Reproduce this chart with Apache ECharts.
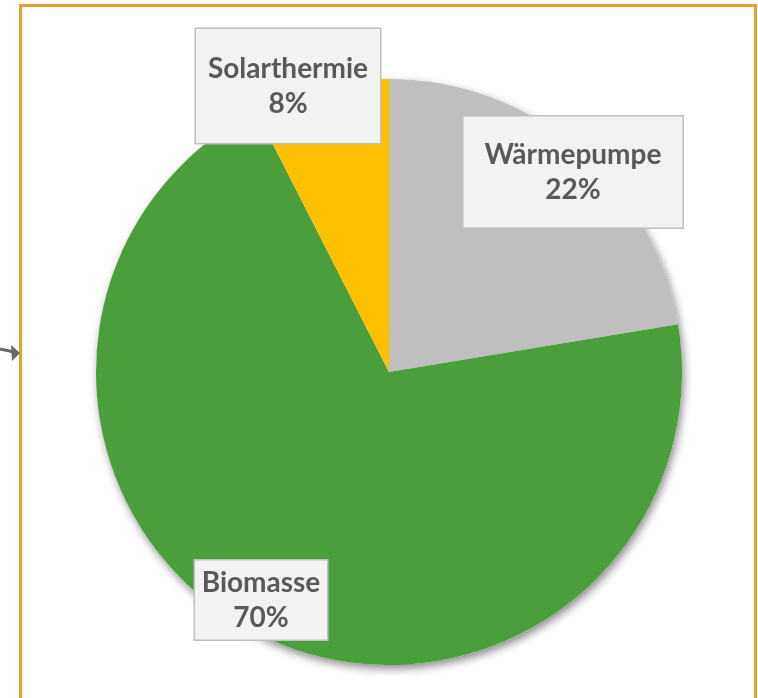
<!DOCTYPE html>
<html>
<head>
<meta charset="utf-8">
<script src="https://cdn.jsdelivr.net/npm/echarts@6/dist/echarts.min.js"></script>
<style>
    html, body { margin: 0; padding: 0; background: #fff; }
    #chart { width: 758px; height: 698px; }
</style>
</head>
<body>
<div id="chart"></div>
<script>
const categories = ["Wärmepumpe", "Biomasse", "Solarthermie"];
const shares = [22.4, 70.1, 7.5];
const sliceColors = ["#bfbfbf", "#4a9e3c", "#ffc000"];

// label box placement (center x, center y, box width, box height)
const labelBoxes = [
    { x: 573, y: 172, w: 221, h: 113 },
    { x: 261, y: 600, w: 134, h: 81 },
    { x: 288, y: 86, w: 186, h: 116 },
];

const chart = echarts.init(document.getElementById("chart"), null, { renderer: "canvas" });

const LINE_H = 35;

const data = categories.map((name, i) => {
    const box = labelBoxes[i];
    return {
        name: name,
        value: shares[i],
        itemStyle: { color: sliceColors[i] },
        label: {
            width: box.w - 2,
            padding: [(box.h - 2 - 2 * LINE_H) / 2, 0],
        },
    };
});

const options = {
    backgroundColor: "#fff",
    animation: false,
    graphic: [
        {
            type: "rect",
            shape: { x: 20.5, y: 5.5, width: 735, height: 720 },
            style: { fill: null, stroke: "#e99b2c", lineWidth: 3 },
            z: 0,
        },
        {
            type: "line",
            shape: { x1: 0, y1: 349, x2: 14, y2: 352 },
            style: { stroke: "#666", lineWidth: 3 },
        },
        {
            type: "polygon",
            shape: { points: [[20, 353], [11, 345], [12, 361]] },
            style: { fill: "#666" },
        },
    ],
    series: [
        {
            // soft drop shadow behind the pie
            type: "pie",
            silent: true,
            center: [389, 372],
            radius: 293,
            label: { show: false },
            labelLine: { show: false },
            itemStyle: {
                color: "#fff",
                shadowBlur: 8,
                shadowOffsetX: 2,
                shadowOffsetY: 4,
                shadowColor: "rgba(0,0,0,0.45)",
            },
            data: [{ value: 1 }],
            z: 1,
        },
        {
            type: "pie",
            center: [389, 372],
            radius: 293,
            startAngle: 90,
            clockwise: true,
            itemStyle: { borderWidth: 0 },
            labelLine: { show: false },
            label: {
                show: true,
                position: "inside",
                formatter: (p) => p.name + "\n" + Math.round(p.percent) + "%",
                fontFamily: "Lato",
                fontWeight: "bold",
                fontSize: 28,
                lineHeight: LINE_H,
                color: "#595959",
                align: "center",
                verticalAlign: "middle",
                backgroundColor: "#f2f2f2",
                borderColor: "#bfbfbf",
                borderWidth: 1.5,
            },
            labelLayout: (params) => {
                const box = labelBoxes[params.dataIndex];
                return { x: box.x, y: box.y, align: "center", verticalAlign: "middle", hideOverlap: false, moveOverlap: null };
            },
            emphasis: { disabled: true },
            data: data,
            z: 2,
        },
    ],
};

chart.setOption(options);
</script>
</body>
</html>
